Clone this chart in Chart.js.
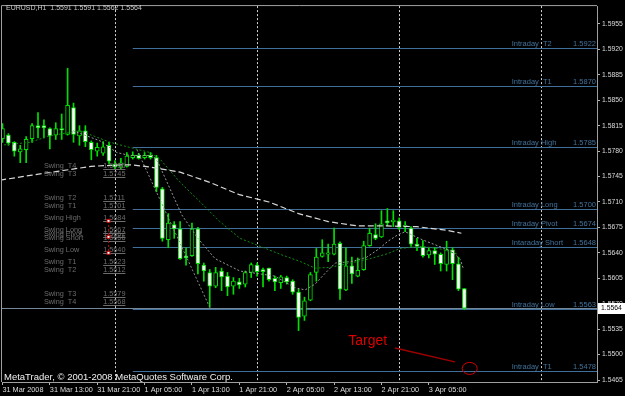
<!DOCTYPE html>
<html>
<head>
<meta charset="utf-8">
<title>EURUSD,H1</title>
<script src="https://cdn.jsdelivr.net/npm/chart.js@4.4.1/dist/chart.umd.min.js"></script>
<style>
  html, body { margin: 0; padding: 0; background: #000; }
  #caja { width: 625px; height: 396px; }
</style>
</head>
<body>
<div id="caja"><canvas id="grafico" width="625" height="396"></canvas></div>
<script>
// EURUSD H1, una vela por hora desde 31 Mar 05:00
const opens = [
  1.5797,1.5802,1.5792,1.5779,1.5782,1.5797,1.5815,1.5815,1.5811,1.5802,
  1.5811,1.5803,1.5840,1.5801,1.5808,1.5792,1.5780,1.5777,1.5788,1.5762,
  1.5758,1.5759,1.5771,1.5774,1.5771,1.5774,1.5771,1.5728,1.5658,1.5679,
  1.5673,1.5636,1.5636,1.5673,1.5623,1.5613,1.5594,1.5615,1.5608,1.5594,
  1.5600,1.5597,1.5613,1.5623,1.5617,1.5619,1.5605,1.5599,1.5606,1.5601,
  1.5586,1.5553,1.5575,1.5613,1.5635,1.5638,1.5638,1.5653,1.5589,1.5622,
  1.5608,1.5617,1.5650,1.5665,1.5662,1.5684,1.5683,1.5684,1.5676,1.5674,
  1.5652,1.5648,1.5637,1.5643,1.5638,1.5624,1.5644,1.5625,1.5591];
const highs = [
  1.5818,1.5804,1.5793,1.5788,1.5800,1.5818,1.5833,1.5823,1.5812,1.5819,
  1.5831,1.5894,1.5846,1.5815,1.5815,1.5794,1.5791,1.5793,1.5792,1.5767,
  1.5770,1.5778,1.5779,1.5777,1.5778,1.5778,1.5774,1.5730,1.5694,1.5683,
  1.5683,1.5647,1.5681,1.5675,1.5626,1.5617,1.5620,1.5619,1.5613,1.5606,
  1.5605,1.5615,1.5626,1.5626,1.5619,1.5619,1.5608,1.5609,1.5608,1.5603,
  1.5590,1.5579,1.5613,1.5646,1.5658,1.5652,1.5674,1.5655,1.5647,1.5634,
  1.5633,1.5656,1.5674,1.5680,1.5698,1.5701,1.5698,1.5688,1.5683,1.5676,
  1.5660,1.5657,1.5647,1.5647,1.5640,1.5656,1.5647,1.5634,1.5591];
const lows = [
  1.5792,1.5788,1.5773,1.5764,1.5764,1.5792,1.5798,1.5798,1.5783,1.5796,
  1.5796,1.5802,1.5792,1.5788,1.5786,1.5768,1.5773,1.5774,1.5762,1.5755,
  1.5755,1.5758,1.5769,1.5769,1.5769,1.5769,1.5724,1.5656,1.5647,1.5660,
  1.5631,1.5623,1.5635,1.5611,1.5601,1.5565,1.5592,1.5588,1.5581,1.5583,
  1.5591,1.5593,1.5606,1.5608,1.5593,1.5601,1.5588,1.5591,1.5597,1.5583,
  1.5533,1.5547,1.5574,1.5601,1.5634,1.5628,1.5637,1.5576,1.5588,1.5598,
  1.5607,1.5616,1.5649,1.5658,1.5661,1.5677,1.5676,1.5672,1.5669,1.5649,
  1.5643,1.5634,1.5633,1.5624,1.5615,1.5615,1.5603,1.5588,1.5562];
const closes = [
  1.5811,1.5791,1.5780,1.5783,1.5796,1.5815,1.5812,1.5812,1.5801,1.5811,
  1.5809,1.5843,1.5803,1.5808,1.5793,1.5782,1.5785,1.5786,1.5766,1.5758,
  1.5764,1.5773,1.5774,1.5770,1.5774,1.5771,1.5730,1.5660,1.5681,1.5673,
  1.5632,1.5633,1.5673,1.5625,1.5615,1.5594,1.5613,1.5607,1.5593,1.5601,
  1.5596,1.5613,1.5624,1.5614,1.5614,1.5603,1.5600,1.5607,1.5600,1.5586,
  1.5551,1.5574,1.5610,1.5634,1.5640,1.5640,1.5652,1.5590,1.5622,1.5611,
  1.5616,1.5650,1.5667,1.5660,1.5680,1.5681,1.5685,1.5675,1.5678,1.5652,
  1.5649,1.5636,1.5643,1.5638,1.5625,1.5644,1.5625,1.5590,1.5564];

const xTickBars = [0, 8, 16, 24, 32, 40, 48, 56, 64, 72];
const xTickLabels = ['31 Mar 2008','31 Mar 13:00','31 Mar 21:00','1 Apr 05:00','1 Apr 13:00',
  '1 Apr 21:00','2 Apr 05:00','2 Apr 13:00','2 Apr 21:00','3 Apr 05:00'];
const yTicks = [1.5465,1.5500,1.5535,1.5570,1.5605,1.5640,1.5675,1.5710,1.5745,1.5780,
  1.5815,1.5850,1.5885,1.5920,1.5955];
const separatorBars = [19, 43, 67, 91];

const slowMaBars = [-0.4, 5, 10, 15, 20, 22, 25, 30, 35, 40, 45, 50, 55, 60, 65, 70, 75, 77.5];
const slowMaValues = [1.5740,1.5747,1.5753,1.5759,1.5761,1.5761,1.5758,1.5751,1.5737,1.5720,
  1.5710,1.5694,1.5683,1.5677,1.5677,1.5676,1.5671,1.5667];
const fastMaBars = [11.9, 16.5, 19.3, 21.5, 25.4, 26.3, 30.3, 33, 35.9, 40.1, 42.7, 46, 49.4,
  51.1, 52.8, 54.5, 56.2, 59, 61.5, 63.5, 65.1, 66.8, 68, 70.9, 73.1, 75.9, 77.3, 77.8];
const fastMaValues = [1.5808,1.5794,1.5778,1.5774,1.5774,1.5764,1.5692,1.5660,1.5632,1.5615,
  1.5612,1.5608,1.5592,1.5589,1.5597,1.5612,1.5626,1.5628,1.5634,1.5645,1.5656,1.5665,1.5669,
  1.5658,1.5651,1.5642,1.5631,1.5619];
const greenMaBars = [-0.4, 4.6, 8, 13.1, 18.2, 22, 24.9, 26.6, 30, 33.4, 36.7, 40.1, 43.5,
  46.9, 50.3, 52.8, 55.3, 58.7, 62.1, 65.1, 67.1, 70.9, 74.2, 76.9];
const greenMaValues = [1.5788,1.5792,1.5801,1.5808,1.5792,1.5784,1.5778,1.5769,1.5737,1.5710,
  1.5683,1.5660,1.5649,1.5638,1.5628,1.5619,1.5620,1.5626,1.5632,1.5639,1.5646,1.5649,1.5645,1.5638];
const zigzagBars = [22.7, 35];
const zigzagValues = [1.5782, 1.5565];

// niveles
const intradayNames = ['Intraday  T2','Intraday  T1','Intraday High','Intraday Long','Intraday Pivot',
  'Intaraday Short','Intraday Low','Intraday  T1'];
const intradayValues = [1.5922,1.5870,1.5785,1.5700,1.5674,1.5648,1.5563,1.5478];
const swingNames = ['Swing  T4','Swing  T3','Swing  T2','Swing  T1','Swing High','Swing Long',
  'Swing Pivot','Swing Short','Swing Low','Swing  T1','Swing  T2','Swing  T3','Swing  T4'];
const swingValues = [1.5755,1.5745,1.5711,1.5701,1.5684,1.5667,1.5662,1.5656,1.5640,1.5623,
  1.5612,1.5579,1.5568];

const levelStartBar = 22;
const intradayLabelBar = 86;
const swingNameBar = 7;
const swingValueBar = 17;
const swingMarkBar = 17.8;
const targetText = {bar: 58.4, price: 1.5519};
const targetArrow = {bars: [66.3, 76.4], prices: [1.5509, 1.5490]};
const targetCircle = {bar: 78.9, price: 1.5481};

const FONT = '"Liberation Sans", Arial, sans-serif';
const VERDE = '#00e000';
const bars = opens.map((o, i) => i);
const pts = (xs, ys) => xs.map((b, k) => ({x: b, y: ys[k]}));

const dibujos = {
  id: 'dibujos',
  beforeDatasetsDraw(chart) {
    const {ctx, chartArea: a, scales: {x, y}} = chart;
    ctx.save();
    ctx.lineWidth = 1;
    // marco
    ctx.strokeStyle = '#a0a0a0';
    ctx.beginPath();
    ctx.moveTo(a.left - 0.5, a.bottom); ctx.lineTo(a.left - 0.5, a.top - 0.5); ctx.lineTo(a.right, a.top - 0.5);
    ctx.stroke();
    // separadores de dia
    ctx.strokeStyle = '#d2d2d2';
    ctx.setLineDash([2, 2]);
    separatorBars.forEach(b => {
      const px = Math.round(x.getPixelForValue(b)) + 0.5;
      ctx.beginPath(); ctx.moveTo(px, a.top); ctx.lineTo(px, a.bottom); ctx.stroke();
    });
    ctx.setLineDash([]);
    // linea bid
    const last = closes[closes.length - 1];
    let py = Math.round(y.getPixelForValue(last)) + 0.5;
    ctx.strokeStyle = '#778899';
    ctx.beginPath(); ctx.moveTo(a.left, py); ctx.lineTo(a.right, py); ctx.stroke();
    // niveles intradia
    ctx.strokeStyle = '#3f6f9a';
    intradayValues.forEach(v => {
      py = Math.round(y.getPixelForValue(v)) + 0.5;
      ctx.beginPath(); ctx.moveTo(x.getPixelForValue(levelStartBar), py); ctx.lineTo(a.right, py); ctx.stroke();
    });
    ctx.restore();
  },
  afterDatasetsDraw(chart) {
    const {ctx, chartArea: a, scales: {x, y}} = chart;
    ctx.save();
    const n = closes.length - 1;
    // titulo
    ctx.font = '7px ' + FONT;
    ctx.fillStyle = '#c8c8c8';
    ctx.textBaseline = 'middle';
    ctx.fillText('EURUSD,H1  ' + opens[n].toFixed(4) + ' ' + highs[n].toFixed(4) + ' ' +
      lows[n].toFixed(4) + ' ' + closes[n].toFixed(4), 6, 8);
    // etiquetas swing
    ctx.font = '7.3px ' + FONT;
    ctx.textBaseline = 'alphabetic';
    ctx.fillStyle = '#6c6c6c';
    ctx.strokeStyle = '#6c6c6c';
    ctx.lineWidth = 1;
    swingValues.forEach((v, k) => {
      const py = y.getPixelForValue(v);
      ctx.fillText(swingNames[k], x.getPixelForValue(swingNameBar), py - 1);
      const vx = x.getPixelForValue(swingValueBar);
      const txt = v.toFixed(4);
      ctx.fillText(txt, vx, py - 1);
      ctx.beginPath(); ctx.moveTo(vx, Math.round(py) + 0.5); ctx.lineTo(vx + ctx.measureText(txt).width, Math.round(py) + 0.5); ctx.stroke();
    });
    // marcas rojas swing
    const mx = Math.round(x.getPixelForValue(swingMarkBar)) + 0.5;
    const marks = [swingValues[4], swingValues[6], swingValues[8]].map(v => y.getPixelForValue(v));
    ctx.strokeStyle = '#c00000';
    ctx.setLineDash([2, 2]);
    ctx.beginPath(); ctx.moveTo(mx, marks[0]); ctx.lineTo(mx, marks[2]); ctx.stroke();
    ctx.setLineDash([]);
    marks.forEach(my => {
      ctx.fillStyle = '#ffffff';
      ctx.fillRect(mx - 1.5, my - 1.5, 3, 3);
      ctx.strokeRect(mx - 1.5, my - 1.5, 3, 3);
    });
    // etiquetas intradia
    ctx.font = '7.5px ' + FONT;
    ctx.fillStyle = '#42729c';
    intradayValues.forEach((v, k) => {
      const py = y.getPixelForValue(v) - 2;
      ctx.textAlign = 'left';
      ctx.fillText(intradayNames[k], x.getPixelForValue(intradayLabelBar), py);
      ctx.textAlign = 'right';
      ctx.fillText(v.toFixed(4), a.right - 1, py);
    });
    ctx.textAlign = 'left';
    // objetivo
    ctx.font = '14px ' + FONT;
    ctx.fillStyle = '#dc0000';
    ctx.textBaseline = 'middle';
    ctx.fillText('Target', x.getPixelForValue(targetText.bar), y.getPixelForValue(targetText.price));
    ctx.strokeStyle = '#a00000';
    ctx.lineWidth = 1.5;
    ctx.beginPath();
    ctx.moveTo(x.getPixelForValue(targetArrow.bars[0]), y.getPixelForValue(targetArrow.prices[0]));
    ctx.lineTo(x.getPixelForValue(targetArrow.bars[1]), y.getPixelForValue(targetArrow.prices[1]));
    ctx.stroke();
    ctx.strokeStyle = '#d00000';
    ctx.lineWidth = 1;
    ctx.beginPath();
    ctx.ellipse(x.getPixelForValue(targetCircle.bar), y.getPixelForValue(targetCircle.price), 7.5, 6, 0, 0, Math.PI * 2);
    ctx.stroke();
    // copyright
    ctx.font = '9.5px ' + FONT;
    ctx.fillStyle = '#f0f0f0';
    ctx.textBaseline = 'alphabetic';
    ctx.fillText('MetaTrader, \u00a9 2001-2008 MetaQuotes Software Corp.', 4, a.bottom - 2);
    // precio actual
    const cy = Math.round(y.getPixelForValue(closes[n]));
    ctx.fillStyle = '#ffffff';
    ctx.fillRect(a.right + 1, cy - 5, 28, 11);
    ctx.fillStyle = '#000000';
    ctx.font = '6.8px ' + FONT;
    ctx.textBaseline = 'middle';
    ctx.fillText(closes[n].toFixed(4), a.right + 4, cy + 0.5);
    ctx.restore();
  }
};

new Chart(document.getElementById('grafico'), {
  type: 'bar',
  data: {
    datasets: [
      {
        label: 'MA lenta', type: 'line', data: pts(slowMaBars, slowMaValues),
        borderColor: '#d8d8d8', borderWidth: 1.2, borderDash: [6, 3], pointRadius: 0, order: 0
      },
      {
        label: 'MA rapida', type: 'line', data: pts(fastMaBars, fastMaValues),
        borderColor: '#9a9a9a', borderWidth: 1, borderDash: [2, 2], pointRadius: 0, order: 0
      },
      {
        label: 'MA verde', type: 'line', data: pts(greenMaBars, greenMaValues),
        borderColor: '#128c12', borderWidth: 1, borderDash: [2, 2], pointRadius: 0, order: 0
      },
      {
        label: 'zigzag', type: 'line', data: pts(zigzagBars, zigzagValues),
        borderColor: '#8c8c8c', borderWidth: 1, borderDash: [2, 2], pointRadius: 0, order: 0
      },
      {
        label: 'cuerpo', data: bars.map(i => ({x: i, y: [opens[i], closes[i]]})),
        backgroundColor: bars.map(i => closes[i] < opens[i] ? '#ffffff' : '#000000'),
        borderColor: VERDE, borderWidth: 1, borderSkipped: false,
        barThickness: 4, grouped: false, minBarLength: 1, order: 1
      },
      {
        label: 'mecha', data: bars.map(i => ({x: i, y: [lows[i], highs[i]]})),
        backgroundColor: VERDE, barThickness: 1, grouped: false, order: 2
      }
    ]
  },
  options: {
    responsive: false,
    animation: false,
    devicePixelRatio: 1,
    layout: {padding: {left: 2, top: 2, right: 0, bottom: 0}},
    plugins: {legend: {display: false}, tooltip: {enabled: false}},
    scales: {
      x: {
        type: 'linear', min: -0.08, max: 100.4, offset: false,
        afterBuildTicks: s => { s.ticks = xTickBars.map(v => ({value: v})); },
        afterFit: s => { s.height = 14; },
        ticks: {
          color: '#dcdcdc', font: {family: FONT, size: 7.3}, padding: 1, align: 'start',
          maxRotation: 0, autoSkip: false, callback: (v, i) => xTickLabels[i]
        },
        grid: {drawOnChartArea: false, color: '#b4b4b4', tickLength: 3, offset: false},
        border: {color: '#a0a0a0'}
      },
      y: {
        position: 'right', min: 1.54623, max: 1.59795,
        afterBuildTicks: s => { s.ticks = yTicks.map(v => ({value: v})); },
        afterFit: s => { s.width = 28; },
        ticks: {color: '#dcdcdc', font: {family: FONT, size: 6.8}, padding: 2, callback: v => v.toFixed(4)},
        grid: {drawOnChartArea: false, color: '#b4b4b4', tickLength: 3},
        border: {color: '#a0a0a0'}
      }
    }
  },
  plugins: [dibujos]
});
</script>
</body>
</html>
